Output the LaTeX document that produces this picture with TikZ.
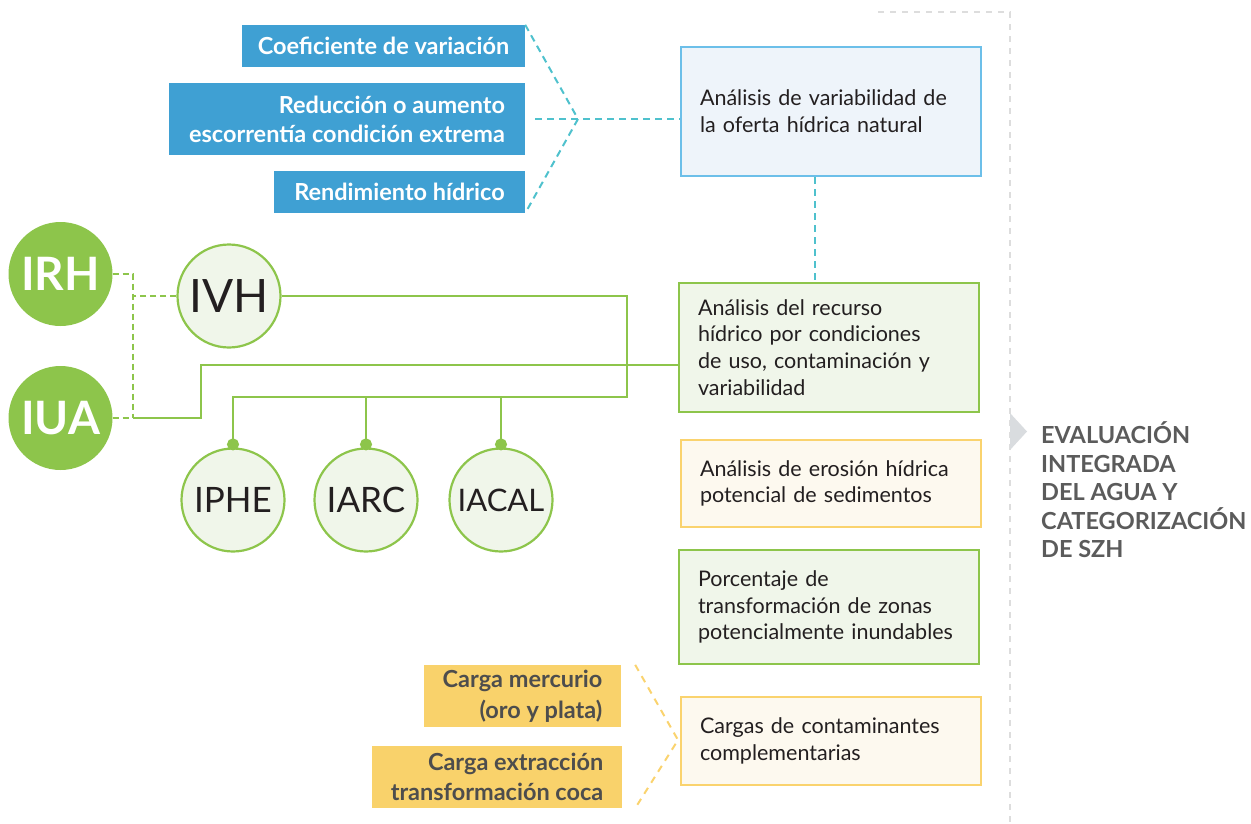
\documentclass[tikz,border=0pt]{standalone}
\usepackage{fontspec}
\setmainfont{Lato}
\usetikzlibrary{arrows.meta}
\definecolor{szhink}{HTML}{231F20}
\definecolor{szhtag}{HTML}{3FA0D3}
\definecolor{szhsky}{HTML}{6CBFE9}
\definecolor{szhskyfill}{HTML}{EEF4FA}
\definecolor{szhteal}{HTML}{4FC1CD}
\definecolor{szhgreen}{HTML}{8DC54B}
\definecolor{szhgreenfill}{HTML}{F0F6EA}
\definecolor{szhyellow}{HTML}{FAD36E}
\definecolor{szhyellowfill}{HTML}{FDF9EF}
\definecolor{szhtagyel}{HTML}{F9D26B}
\definecolor{szhdark}{HTML}{4D4D4D}
\definecolor{szhgray}{HTML}{DDDDDD}
\definecolor{szhtri}{HTML}{D9DCDF}
\definecolor{szhtitle}{HTML}{5B5B5B}

\begin{document}
\begin{tikzpicture}[
  x=1pt,y=-1pt,
  tagblue/.style={fill=szhtag,text=white,align=right,inner sep=0pt,font=\bfseries\fontsize{23.5}{29}\selectfont},
  tagyel/.style={fill=szhtagyel,text=szhdark,align=right,inner sep=0pt,font=\bfseries\fontsize{23.5}{30.5}\selectfont},
  rbox/.style={minimum width=300pt,text width=262pt,align=left,inner sep=0pt,line width=2.5pt,text=szhink,font=\fontsize{21.5}{26.7}\selectfont},
  big/.style={circle,fill=szhgreen,text=white,minimum size=104pt,inner sep=0pt,font=\bfseries\fontsize{46}{46}\selectfont},
  ring/.style={circle,draw=szhgreen,line width=2.2pt,fill=szhgreenfill,text=szhink,minimum size=103pt,inner sep=0pt,font=\fontsize{35}{35}\selectfont},
  glink/.style={draw=szhgreen,line width=2pt},
  gdash/.style={draw=szhgreen,line width=2pt,dash pattern=on 6pt off 4pt},
  tdash/.style={draw=szhteal,line width=2pt,dash pattern=on 7pt off 5pt},
  ydash/.style={draw=szhyellow,line width=2pt,dash pattern=on 7pt off 6pt},
  dot/.style={-{Circle[length=12pt]}},
]
\useasboundingbox (0,0) rectangle (1251,823);

% frame on the right and the closing statement
\draw[szhgray,line width=1.5pt,dash pattern=on 6pt off 6pt] (878,12) -- (1010,12) -- (1010,823);
\fill[szhtri] (1010,413) -- (1027,431.5) -- (1010,450) -- cycle;
\node[anchor=west,align=left,text=szhtitle,inner sep=0pt,font=\bfseries\fontsize{23.5}{28.5}\selectfont] (szh) at (1041,490)
  {EVALUACIÓN\\INTEGRADA\\DEL AGUA Y\\CATEGORIZACIÓN\\DE SZH};

% analysis boxes
\node[rbox,draw=szhsky,fill=szhskyfill,minimum height=129pt] (oferta) at (831,111.5)
  {Análisis de variabilidad de\\la oferta hídrica natural};
\node[rbox,draw=szhgreen,fill=szhgreenfill,minimum height=129pt] (rec) at (829,347.5)
  {Análisis del recurso\\hídrico por condiciones\\de uso, contaminación y\\variabilidad};
\node[rbox,draw=szhyellow,fill=szhyellowfill,minimum height=87pt] (eros) at (831,483.5)
  {Análisis de erosión hídrica\\potencial de sedimentos};
\node[rbox,draw=szhgreen,fill=szhgreenfill,minimum height=114pt] (porc) at (829,607)
  {Porcentaje de\\transformación de zonas\\potencialmente inundables};
\node[rbox,draw=szhyellow,fill=szhyellowfill,minimum height=88pt] (carg) at (831,741)
  {Cargas de contaminantes\\complementarias};

% blue tags feeding the natural supply analysis
\node[tagblue,minimum width=283pt,minimum height=42pt] (coef) at (383.5,46) {Coeficiente de variación};
\node[tagblue,minimum width=356pt,minimum height=72pt] (escor) at (347,119) {Reducción o aumento\\escorrentía condición extrema};
\node[tagblue,minimum width=251pt,minimum height=42pt] (rend) at (399.5,192) {Rendimiento hídrico};
\coordinate (tv) at (578,119);
\draw[tdash] (coef.north east) -- (tv) -- (rend.south east);
\draw[tdash] ([xshift=10pt]escor.east) -- (escor.east -| oferta.west);
\draw[tdash] ([xshift=-16pt]oferta.south) -- ([xshift=-16pt]oferta.south |- rec.north);

% yellow tags feeding the complementary loads
\node[tagyel,minimum width=197pt,minimum height=62pt] (merc) at (522.5,696) {Carga mercurio\\(oro y plata)};
\node[tagyel,minimum width=250pt,minimum height=62pt] (coca) at (497,777) {Carga extracción\\transformación coca};
\coordinate (yv) at (678,740);
\draw[ydash] ([xshift=14pt]merc.north east) -- (yv) -- ([xshift=13pt]coca.south east);

% indices
\node[big] (irh) at (60.5,274) {IRH};
\node[big] (iua) at (60.5,418) {IUA};
\node[ring,font=\fontsize{46}{46}\selectfont] (ivh) at (229,296) {IVH};
\node[ring] (iphe) at (233,500) {IPHE};
\node[ring] (iarc) at (366,500) {IARC};
\node[ring,font=\fontsize{31}{31}\selectfont] (iacal) at (501,500) {IACAL};

\coordinate (jn) at (133,418);
\draw[gdash] (irh.east) -| (jn);
\draw[gdash] (iua.east) -- (jn);
\draw[gdash] (ivh.west) -- (ivh.west -| jn);
\coordinate (riser) at (201,365);
\draw[glink] (jn) -| (riser) -- (riser -| rec.west);

\coordinate (bus) at (627,397);
\draw[glink,dot] (ivh.east) -| (bus) -| ([yshift=-3pt]iphe.north);
\draw[glink,dot] (iarc.north |- bus) -- ([yshift=-3pt]iarc.north);
\draw[glink,dot] (iacal.north |- bus) -- ([yshift=-3pt]iacal.north);
\end{tikzpicture}
\end{document}
